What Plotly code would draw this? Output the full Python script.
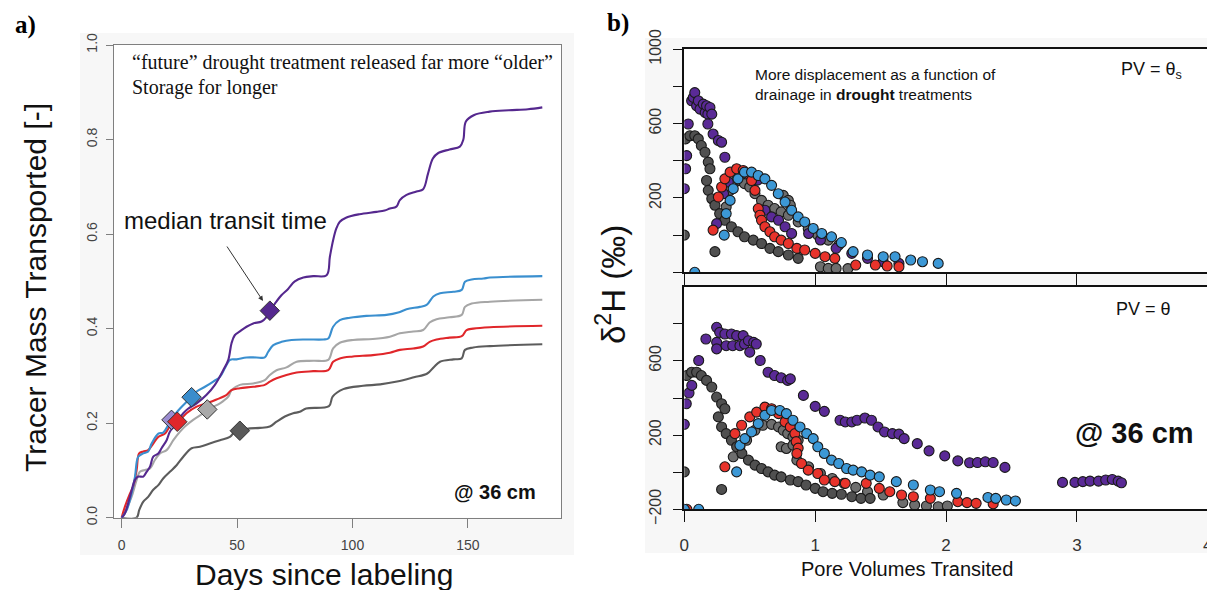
import plotly.graph_objects as go

W, H = 1215, 590
OFF = 8  # the page body adds an 8 px margin; positions below are page pixels
def px(X): return (X - OFF) / W
def py(Y): return 1 - (Y - OFF) / H

# ---------------- Panel a: cumulative tracer mass ----------------
purple_days = [0, 1.4, 3.6, 5.8, 7.2, 9.4, 10.8, 12.3, 13.7, 15.9, 17.3, 19.5, 20.9, 22.7, 24.5,
               26.7, 28.9, 32.5, 36.8, 40.4, 44, 46.2, 47.6, 49, 51.2, 54.1, 57, 60.6, 62.8, 64.2,
               66.4, 69.3, 72.1, 75, 78.7, 83, 88.8, 90.2, 91.6, 93, 94.5, 97.4, 103, 110.4, 113.9,
               116.2, 119, 120.5, 123.4, 127.7, 130.6, 132.7, 134.8, 137, 142, 146.5, 148, 149.1,
               152.7, 159.4, 167.7, 176, 182.2]
purple_vals = [0, .009, .044, .08, .087, .087, .097, .108, .129, .136, .147, .164, .182, .193, .207,
               .221, .231, .242, .26, .281, .312, .334, .369, .386, .394, .404, .411, .415, .425, .438,
               .453, .471, .484, .5, .508, .511, .513, .552, .587, .612, .626, .635, .642, .647, .65,
               .654, .658, .672, .683, .69, .695, .728, .76, .771, .779, .785, .80, .838, .852, .859,
               .862, .864, .868]

blue_days = [0, 2.2, 4.3, 5.8, 7.2, 9.4, 11.5, 13, 15.9, 18, 20.2, 22.4, 25.3, 28.9, 32.5, 36.1,
             39.7, 42.6, 44.7, 47, 49.8, 54.1, 58.4, 62, 63.5, 65.7, 69.3, 73.6, 80.1, 87.4, 89.5,
             91.6, 94.5, 98.9, 106, 114.7, 119.8, 123.4, 129.2, 132.1, 135, 137.9, 143.7, 147.3,
             148.7, 151.6, 156.7, 159.5, 182.2]
blue_vals = [0, .016, .051, .087, .129, .136, .14, .157, .178, .18, .196, .214, .231, .249, .267, .277,
             .288, .298, .316, .334, .335, .339, .339, .339, .351, .365, .372, .376, .377, .377, .379,
             .404, .418, .423, .427, .429, .434, .441, .446, .45, .468, .475, .478, .482, .499, .504,
             .506, .508, .511]

red_days = [0, 1.4, 3.6, 5, 6.5, 7.6, 9.4, 11.5, 13.7, 15.9, 18.8, 20.9, 23.1, 25.3, 28.1, 32.5,
            36.8, 41.1, 45.5, 47.6, 51.2, 57, 62, 64.2, 67.1, 71.4, 75.8, 83, 89.5, 91.6, 94.5,
            100.2, 108.8, 116.2, 120.5, 126.3, 130.6, 133.4, 136.4, 142, 147.3, 149.4, 152.3, 159.5,
            182.2]
red_vals = [0, .023, .051, .066, .101, .136, .14, .143, .157, .171, .178, .193, .2, .207, .221, .235,
            .242, .25, .26, .27, .274, .277, .281, .288, .295, .302, .307, .31, .312, .33, .337, .341,
            .344, .349, .355, .358, .362, .372, .377, .381, .384, .397, .4, .403, .406]

lgray_days = [0, 2.2, 4.3, 6.5, 7.9, 10.1, 12.3, 14.4, 16.6, 19.5, 22.4, 25.3, 27.4, 31, 35.4, 38.2,
              42.6, 46.2, 47.6, 51.2, 57, 62, 64.2, 67.1, 71.4, 75.8, 83, 89.5, 91.6, 94.5, 100.2,
              108.8, 116.2, 120.5, 126.3, 130.6, 133.4, 136.4, 142, 147.3, 148.7, 151.6, 159.5, 182.2]
lgray_vals = [0, .02, .044, .08, .097, .101, .104, .122, .136, .143, .164, .182, .193, .207, .221, .231,
              .242, .256, .27, .281, .284, .291, .302, .312, .318, .33, .332, .334, .358, .37, .376,
              .378, .383, .39, .394, .397, .413, .42, .424, .429, .446, .453, .457, .461]

dgray_days = [0, 6.5, 7.6, 9.4, 11.5, 13.7, 15.9, 18, 20.9, 23.8, 26.7, 30.3, 33.9, 38.2, 42.6, 46.9,
              49, 51.2, 55.6, 59.9, 64.2, 67.1, 70.7, 74.3, 77.2, 79.9, 89.8, 91.4, 96, 104.6, 112,
              119.3, 126.6, 132.4, 135.3, 137.9, 143.7, 147.3, 148.7, 152.3, 159.5, 182.2]
dgray_vals = [0, 0, .016, .034, .044, .059, .069, .083, .097, .111, .129, .147, .15, .157, .164, .171,
              .182, .185, .189, .19, .193, .203, .214, .221, .224, .231, .236, .256, .272, .279, .282,
              .288, .297, .305, .319, .33, .335, .337, .355, .36, .363, .367]

# median transit time markers
median_days = [21.6, 51.2, 37.1, 24.1, 30.3, 64.2]
median_vals = [.207, .184, .229, .203, .255, .438]
median_cols = ["#9b8cd0", "#5a5a5a", "#a9a9a9", "#e0262a", "#3a8dcc", "#55288e"]

C_PURPLE = "#55288e"
C_BLUE = "#3a8fcf"
C_RED = "#e0262a"
C_LGRAY = "#a6a6a6"
C_DGRAY = "#5c5c5c"

# ---------------- Panel b: delta2H vs pore volumes ----------------
# top: PV = theta_s
top_purple_x = [0, .01, .018, .03, .056, .069, .08, .094, .107, .12, .145, .16, .17, .18, .18, .196,
                .21, .22, .26, .285, .31, .336, .247, .30, .56, .616, .667, .72, .77, .82, .95, 1.04,
                1.16, 1.28, 1.40, 1.52, 1.64]
top_purple_y = [250, 357, 428, 598, 723, 741, 767, 696, 723, 678, 705, 660, 696, 651, 598, 687, 651,
                544, 509, 500, 419, 286, 62, 223, 296, 134, 98, 80, 45, 9, 9, -26, -71, -98, -125,
                -143, -152]
top_gray1_x = [0, .01, .043, .08, .107, .13, .158, .183, .196, .17, .183, .21, .234, .27, .31, .36,
               .41, .46, .527, .59, .654, .718, .795, .87, .234]
top_gray1_y = [0, 518, 535, 535, 518, 482, 446, 393, 357, 294, 241, 196, 161, 116, 80, 45, 18, -9,
               -27, -45, -71, -89, -107, -125, -89]
top_gray2_x = [.32, .35, .387, .425, .46, .50, .54, .59, .64, .69, .74, .795, .87, .947, 1.02, 1.1,
               1.18, 1.04, 1.1, 1.16, 1.25, .756, .795, .81]
top_gray2_y = [152, 241, 286, 294, 277, 259, 223, 187, 161, 143, 125, 107, 71, 36, 0, -27, -54,
               -170, -179, -179, -180, 214, 187, 161]
top_red_x = [.22, .26, .285, .31, .35, .40, .45, .49, .514, .54, .565, .578, .59, .616, .654, .69,
             .74, .795, .86, .92, 1.0, 1.075, 1.15, 1.31, 1.46, 1.55, 1.64]
top_red_y = [27, 205, 259, 303, 339, 357, 348, 330, 294, 241, 143, 107, 80, 45, 18, -9, -27, -45,
             -71, -80, -98, -116, -125, -161, -161, -166, -170]
top_blue_x = [.08, .305, .32, .35, .374, .41, .46, .514, .565, .616, .667, .718, .77, .82, .87, .92,
              .985, 1.05, 1.125, 1.2, 1.29, 1.40, 1.52, 1.61, 1.73, 1.82, 1.94]
top_blue_y = [-200, 0, 116, 187, 250, 303, 339, 339, 321, 303, 268, 223, 178, 134, 98, 71, 36, 9,
              -9, -40, -89, -107, -116, -116, -134, -143, -152]

# bottom: PV = theta
bot_purple_x = [0, .015, .036, .057, .11, .165, .247, .247, .247, .27, .31, .32, .36, .37, .40, .425,
                .45, .46, .49, .50, .53, .55, .58, .64, .69, .74, .79, .81, .91, 1.0, 1.07, 1.19,
                1.23, 1.28, 1.32, 1.38, 1.43, 1.48, 1.53, 1.59, 1.64, 1.68, 1.78, 1.87, 1.99, 2.09,
                2.18, 2.24, 2.30, 2.36, 2.45, 2.89, 2.985, 3.045, 3.10, 3.165, 3.22, 3.27, 3.315, 3.34]
bot_purple_y = [258, 369, 427, 468, 602, 718, 781, 700, 665, 754, 745, 682, 745, 682, 736, 682, 736,
                691, 709, 647, 700, 691, 602, 539, 521, 509, 495, 503, 414, 355, 328, 280, 271, 271,
                280, 292, 280, 244, 217, 208, 205, 181, 154, 115, 88, 61, 51, 52, 56, 52, 26, -55,
                -55, -51, -48, -48, -42, -39, -48, -57]
bot_gray1_x = [0, .018, .056, .094, .13, .17, .21, .247, .285, .31, .26, .285, .32, .36, .40, .44,
               .49, .54, .59, .64, .69, .74, .81, .87, .93, 1.0, 1.06, 1.13, 1.20, 1.28, 1.35, 1.42,
               .285]
bot_gray1_y = [2, 521, 539, 539, 521, 495, 459, 405, 369, 342, 298, 244, 208, 172, 137, 101, 65, 38,
               20, 2, -16, -25, -42, -51, -69, -87, -105, -114, -119, -132, -141, -141, -93]
bot_gray2_x = [.374, .425, .476, .54, .60, .667, .72, .756, .79, .83, .87, .74, .78, .83, .86, .95,
               1.04, 1.13, 1.22, 1.31, 1.40, 1.52, 1.67, 1.76, 1.85, 1.94, 2.01]
bot_gray2_y = [83, 137, 172, 226, 253, 258, 244, 226, 208, 190, 172, 137, 128, 146, 65, 29, -7, -34,
               -60, -82, -105, -123, -164, -177, -182, -186, -182]
bot_red_x = [.02, .31, .387, .438, .50, .553, .616, .667, .72, .77, .81, .845, .855, .87, .86, .896,
             .947, 1.02, 1.07, 1.15, 1.23, 1.39, 1.49, 1.57, 1.66, 1.75, 1.88, 2.09, 2.16, 2.23, 2.36]
bot_red_y = [-200, 29, 208, 253, 298, 324, 351, 342, 316, 271, 244, 208, 165, 130, 101, 47, 11, -7,
             -42, -51, -60, -60, -87, -105, -123, -132, -141, -159, -164, -168, -171]
bot_blue_x = [0, .11, .40, .425, .463, .514, .565, .616, .667, .73, .78, .83, .884, .935, .985, 1.02,
              1.07, 1.125, 1.18, 1.24, 1.29, 1.355, 1.42, 1.49, 1.62, 1.75, 1.88, 1.95, 2.08, 2.32,
              2.38, 2.46, 2.53]
bot_blue_y = [-200, -200, 2, 145, 181, 217, 262, 307, 333, 333, 316, 280, 244, 208, 181, 137, 101,
              65, 47, 20, 11, 2, -16, -25, -51, -69, -96, -105, -114, -136, -141, -150, -155]

S_PURPLE = "#5a2a96"
S_GRAY1 = "#505050"
S_GRAY2 = "#6e6e6e"
S_RED = "#e8332b"
S_BLUE = "#3c98d6"

fig = go.Figure()

# panel a lines
for d, v, c in [(dgray_days, dgray_vals, C_DGRAY), (lgray_days, lgray_vals, C_LGRAY),
                (red_days, red_vals, C_RED), (blue_days, blue_vals, C_BLUE),
                (purple_days, purple_vals, C_PURPLE)]:
    fig.add_trace(go.Scatter(x=d, y=v, mode="lines", line=dict(color=c, width=2.1),
                             line_shape="spline", showlegend=False, xaxis="x", yaxis="y"))
fig.add_trace(go.Scatter(x=median_days, y=median_vals, mode="markers", showlegend=False,
                         marker=dict(symbol="diamond", size=15, color=median_cols,
                                     line=dict(color="#333333", width=1)),
                         xaxis="x", yaxis="y"))

# panel b scatters
mk = lambda c: dict(size=10, color=c, line=dict(color="#1a1a1a", width=1.1))
for xs, ys, c in [(top_gray2_x, top_gray2_y, S_GRAY2), (top_gray1_x, top_gray1_y, S_GRAY1),
                  (top_purple_x, top_purple_y, S_PURPLE), (top_red_x, top_red_y, S_RED),
                  (top_blue_x, top_blue_y, S_BLUE)]:
    fig.add_trace(go.Scatter(x=xs, y=ys, mode="markers", marker=mk(c), showlegend=False,
                             xaxis="x2", yaxis="y2", cliponaxis=True))
for xs, ys, c in [(bot_gray2_x, bot_gray2_y, S_GRAY2), (bot_gray1_x, bot_gray1_y, S_GRAY1),
                  (bot_red_x, bot_red_y, S_RED), (bot_blue_x, bot_blue_y, S_BLUE),
                  (bot_purple_x, bot_purple_y, S_PURPLE)]:
    fig.add_trace(go.Scatter(x=xs, y=ys, mode="markers", marker=mk(c), showlegend=False,
                             xaxis="x3", yaxis="y3", cliponaxis=True))

SANS = "Liberation Sans, Arial, sans-serif"
SERIF = "Liberation Serif, Times New Roman, serif"

common_a = dict(showgrid=False, zeroline=False, showline=True, linecolor="#7f7f7f", linewidth=1.2,
                mirror=True, ticks="outside", tickcolor="#7f7f7f", automargin=False,
                tickfont=dict(family=SANS, size=14, color="#444444"))
bx_base = dict(showgrid=False, zeroline=False, showline=True, linecolor="#111111", linewidth=1.8,
               mirror=True, ticks="outside", tickcolor="#111111", tickwidth=1.3, automargin=False)
bfont = dict(family=SANS, size=16, color="#333333")

yt = [-200, 0, 200, 400, 600, 800, 1000]
fig.update_layout(
    width=W, height=H, margin=dict(l=0, r=0, t=0, b=0, autoexpand=False),
    paper_bgcolor="white", plot_bgcolor="white",
    xaxis=dict(domain=[px(114), px(561)], range=[-3.3, 190.3], tickvals=[0, 50, 100, 150],
               ticklen=9, ticklabelstandoff=5, anchor="y", **common_a),
    yaxis=dict(domain=[py(517.7), py(45)], range=[0, 1], tickvals=[0, .2, .4, .6, .8, 1.0],
               ticktext=["0.0", "0.2", "0.4", "0.6", "0.8", "1.0"], tickangle=-90,
               ticklen=7, ticklabelstandoff=3, anchor="x", **common_a),
    xaxis2=dict(domain=[px(684.3), px(1207.8)], range=[0, 4], tickvals=[0, 1, 2, 3, 4],
                showticklabels=False, ticklen=12, anchor="y2", tickfont=bfont, **bx_base),
    yaxis2=dict(domain=[py(272.3), py(49.3)], range=[-200, 1000], tickvals=yt,
                ticktext=["", "", "200", "", "600", "", "1000"], tickangle=-90, ticklen=9,
                ticklabelstandoff=6, anchor="x2", tickfont=bfont, **bx_base),
    xaxis3=dict(domain=[px(684.3), px(1207.8)], range=[0, 4], tickvals=[0, 1, 2, 3, 4],
                ticklen=11, ticklabelstandoff=8, anchor="y3",
                tickfont=dict(family=SANS, size=17, color="#333333"), **bx_base),
    yaxis3=dict(domain=[py(509.3), py(286.7)], range=[-200, 1000], tickvals=yt[:-1],
                ticktext=["\u2212200", "", "200", "", "600", ""], tickangle=-90, ticklen=9,
                ticklabelstandoff=6, anchor="x3", tickfont=bfont, **bx_base),
)

# faint grey panel backgrounds, with white plotting areas on top
fig.add_shape(type="rect", xref="paper", yref="paper", x0=px(80), x1=px(574), y0=py(555), y1=py(33),
              fillcolor="#f7f7f7", line=dict(width=0), layer="below")
fig.add_shape(type="rect", xref="paper", yref="paper", x0=px(645), x1=px(1225), y0=py(553), y1=py(38),
              fillcolor="#f7f7f7", line=dict(width=0), layer="below")
for (x0, x1, y0, y1) in [(114, 561, 517.7, 45), (684.3, 1207.8, 272.3, 49.3),
                         (684.3, 1207.8, 509.3, 286.7)]:
    fig.add_shape(type="rect", xref="paper", yref="paper", x0=px(x0), x1=px(x1), y0=py(y0),
                  y1=py(y1), fillcolor="white", line=dict(width=0), layer="below")

def ann(text, X, Y, size, family=SANS, color="#111111", xanchor="center", angle=0, **kw):
    fig.add_annotation(text=text, x=px(X), y=py(Y), xref="paper", yref="paper", showarrow=False,
                       xanchor=xanchor, yanchor="middle", textangle=angle,
                       font=dict(family=family, size=size, color=color), **kw)

ann("<b>a)</b>", 25, 25, 25, family=SERIF, color="#000000")
ann("<b>b)</b>", 618, 23, 25, family=SERIF, color="#000000")
ann("Tracer Mass Transported [-]", 35, 288, 30, angle=-90)
ann("Days since labeling", 324, 574, 30)
ann("\u201cfuture\u201d drought treatment released far more \u201colder\u201d", 130, 63, 20,
    family=SERIF, xanchor="left")
ann("Storage for longer", 130, 87, 20, family=SERIF, xanchor="left")
ann("median transit time", 122, 220, 24, xanchor="left")
ann("<b>@ 36 cm</b>", 538, 492, 20, xanchor="right")
fig.add_annotation(x=px(263), y=py(301), xref="paper", yref="paper", text="", showarrow=True,
                   ax=-37, ay=-56, arrowhead=2, arrowsize=1, arrowwidth=1, arrowcolor="#333333")

ann("\u03b4<sup>2</sup>H (\u2030)", 611, 285, 33, angle=-90)
ann("Pore Volumes Transited", 907, 569, 20)
ann("More displacement as a function of", 753, 75, 15.5, xanchor="left")
ann("drainage in <b>drought</b> treatments", 753, 94, 15.5, xanchor="left")
ann("PV = \u03b8<sub>s</sub>", 1184, 70, 18, xanchor="right")
ann("PV = \u03b8", 1173, 309, 18, xanchor="right")
ann("<b>@ 36 cm</b>", 1196, 433, 29, xanchor="right")

fig.write_html("out.html")
